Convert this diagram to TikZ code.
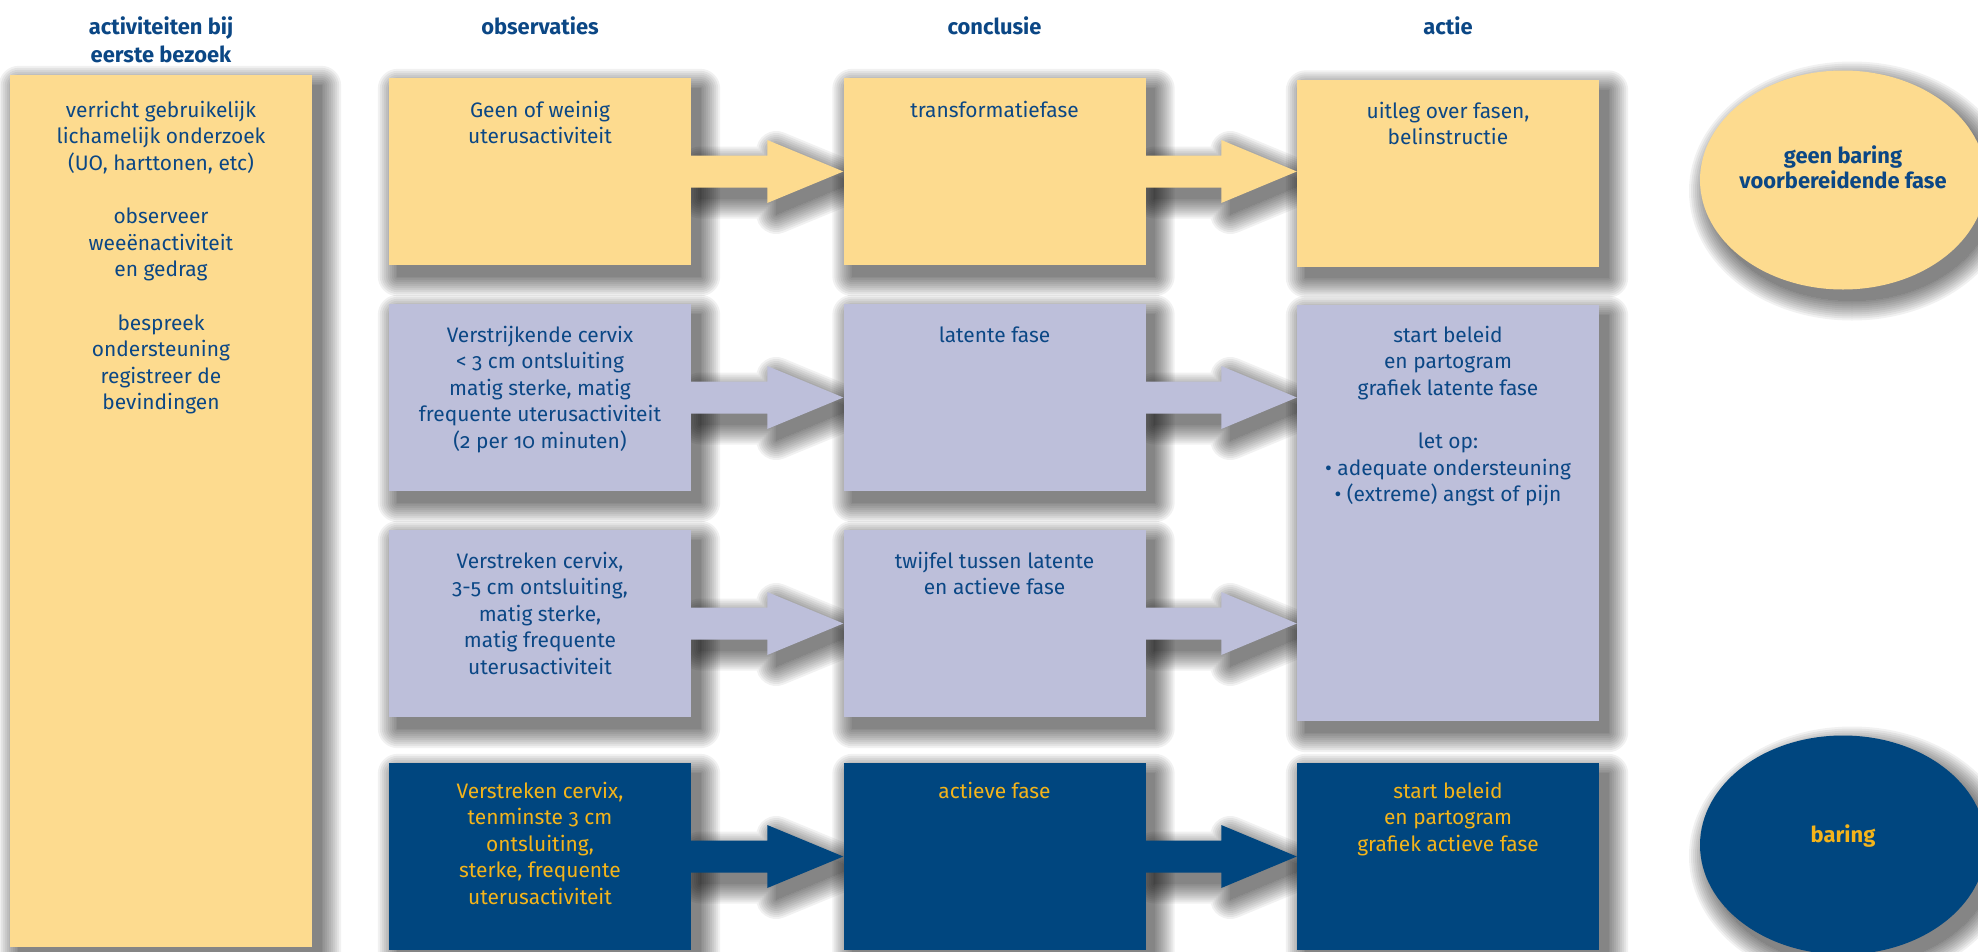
\documentclass[tikz,border=0pt]{standalone}
\usepackage{fontspec}
\setmainfont{Fira Sans}[Numbers=OldStyle]
\usetikzlibrary{shapes.geometric,calc}
\pgfdeclarelayer{bgwhite}
\pgfdeclarelayer{shadows}
\pgfsetlayers{bgwhite,shadows,main}
\definecolor{ybox}{HTML}{FDDB8F}
\definecolor{lbox}{HTML}{BDBFDA}
\definecolor{nbox}{HTML}{00467F}
\definecolor{tblue}{HTML}{0B4785}
\definecolor{tgold}{HTML}{F4B41A}
\tikzset{
  box/.style={rectangle, inner sep=0pt, minimum width=302bp, minimum height=187bp},
  txt/.style={anchor=base, inner sep=0pt, text=tblue, font=\fontsize{21}{26.7}\selectfont},
  gtxt/.style={txt, text=tgold},
  head/.style={anchor=base, inner sep=0pt, text=tblue, font=\fontsize{22}{28.5}\selectfont\bfseries},
  oval/.style={ellipse, inner sep=0pt, minimum width=286bp, minimum height=219bp},
}
\newcommand{\bl}{\\[26.7bp]}
\newcommand{\tb}[1]{\begin{tabular}[t]{@{}c@{}}#1\end{tabular}}
% soft shadow of a path, drawn on the shadow layer
\newcommand{\shd}[1]{%
  \begin{pgfonlayer}{shadows}
  \foreach \w in {0,4,8,12,16,20,24,28,32,36,40}{%
    \begin{scope}[transparency group, opacity=0.055, transform canvas={shift={(9bp,-11bp)}}]
      \filldraw[black, line width=\w bp, line join=round] #1;
    \end{scope}}
  \end{pgfonlayer}}
% block arrow from node #1 to node #2
\newcommand{\arrpath}[2]{%
  ([yshift=16bp]#1.east) -- ([yshift=16bp]$(#1.east)!0.5!(#1.east -| #2.west)$)
  -- ([yshift=31.5bp]$(#1.east)!0.5!(#1.east -| #2.west)$) -- (#1.east -| #2.west)
  -- ([yshift=-31.5bp]$(#1.east)!0.5!(#1.east -| #2.west)$)
  -- ([yshift=-16bp]$(#1.east)!0.5!(#1.east -| #2.west)$) -- ([yshift=-16bp]#1.east) -- cycle}
\newcommand{\blockarrow}[3]{\fill[#3] \arrpath{#1}{#2}; \shd{\arrpath{#1}{#2}}}
\newcommand{\boxshd}[1]{\shd{(#1.north west) rectangle (#1.south east)}}
\begin{document}
\begin{tikzpicture}[x=1bp,y=-1bp]
\useasboundingbox (0,0) rectangle (1978,952);
\clip (0,0) rectangle (1978,952);
\begin{pgfonlayer}{bgwhite}
\fill[white] (0,0) rectangle (1978,952);
\end{pgfonlayer}

% headers
\node[head] (h0) at (161,34) {\tb{activiteiten bij\\eerste bezoek}};
\node[head] (h1) at (540,34) {observaties};
\node[head] (h2) at (994.5,34) {conclusie};
\node[head] (h3) at (1448,34) {actie};

% left column
\node[box, fill=ybox, minimum height=872bp] (L) at (161,511) {};
\boxshd{L}
\node[txt] (tL) at (161,117) {\tb{verricht gebruikelijk\\lichamelijk onderzoek\\(UO, harttonen, etc)\bl observeer\\weeënactiviteit\\en gedrag\bl bespreek\\ondersteuning\\registreer de\\bevindingen}};

% ellipses
\node[oval, fill=ybox] (e1) at (1843,180) {};
\shd{(e1.center) ellipse [x radius=143, y radius=109.5]}
\node[head, font=\fontsize{22}{25}\selectfont\bfseries] (te1) at (1843,163) {\tb{geen baring\\voorbereidende fase}};
\node[oval, fill=nbox] (e2) at (1843,845) {};
\shd{(e2.center) ellipse [x radius=143, y radius=109.5]}
\node[head, text=tgold] (te2) at (1843,842) {baring};

% boxes
\node[box, fill=ybox] (o1) at (540,171.5) {};
\node[box, fill=ybox] (c1) at (994.5,171.5) {};
\node[box, fill=ybox] (a1) at (1448,173) {};
\node[box, fill=lbox] (o2) at (540,397.5) {};
\node[box, fill=lbox] (c2) at (994.5,397.5) {};
\node[box, fill=lbox] (o3) at (540,623.5) {};
\node[box, fill=lbox] (c3) at (994.5,623.5) {};
\node[box, fill=lbox, minimum height=416bp] (a2) at (1448,513) {};
\node[box, fill=nbox] (o4) at (540,856.5) {};
\node[box, fill=nbox] (c4) at (994.5,856.5) {};
\node[box, fill=nbox] (a4) at (1448,856.5) {};
\foreach \n in {o1,c1,a1,o2,c2,o3,c3,a2,o4,c4,a4}{\boxshd{\n}}

% arrows
\blockarrow{o1}{c1}{ybox}
\blockarrow{c1}{a1}{ybox}
\blockarrow{o2}{c2}{lbox}
\blockarrow{c2}{a2}{lbox}
\blockarrow{o3}{c3}{lbox}
\blockarrow{c3}{a2}{lbox}
\blockarrow{o4}{c4}{nbox}
\blockarrow{c4}{a4}{nbox}

% texts
\node[txt] (to1) at (540,117) {\tb{Geen of weinig\\uterusactiviteit}};
\node[txt] (tc1) at (994.5,117) {transformatiefase};
\node[txt] (ta1) at (1448,118) {\tb{uitleg over fasen,\\belinstructie}};
\node[txt] (to2) at (540,342) {\tb{Verstrijkende cervix\\< 3 cm ontsluiting\\matig sterke, matig\\frequente uterusactiviteit\\(2 per 10 minuten)}};
\node[txt] (tc2) at (994.5,342) {latente fase};
\node[txt] (ta2) at (1448,342) {\tb{start beleid\\en partogram\\grafiek latente fase\bl let op:\\• adequate ondersteuning\\• (extreme) angst of pijn}};
\node[txt] (to3) at (540,568) {\tb{Verstreken cervix,\\3-5 cm ontsluiting,\\matig sterke,\\matig frequente\\uterusactiviteit}};
\node[txt] (tc3) at (994.5,568) {\tb{twijfel tussen latente\\en actieve fase}};
\node[gtxt] (to4) at (540,798) {\tb{Verstreken cervix,\\tenminste 3 cm\\ontsluiting,\\sterke, frequente\\uterusactiviteit}};
\node[gtxt] (tc4) at (994.5,798) {actieve fase};
\node[gtxt] (ta4) at (1448,798) {\tb{start beleid\\en partogram\\grafiek actieve fase}};
\end{tikzpicture}
\end{document}
